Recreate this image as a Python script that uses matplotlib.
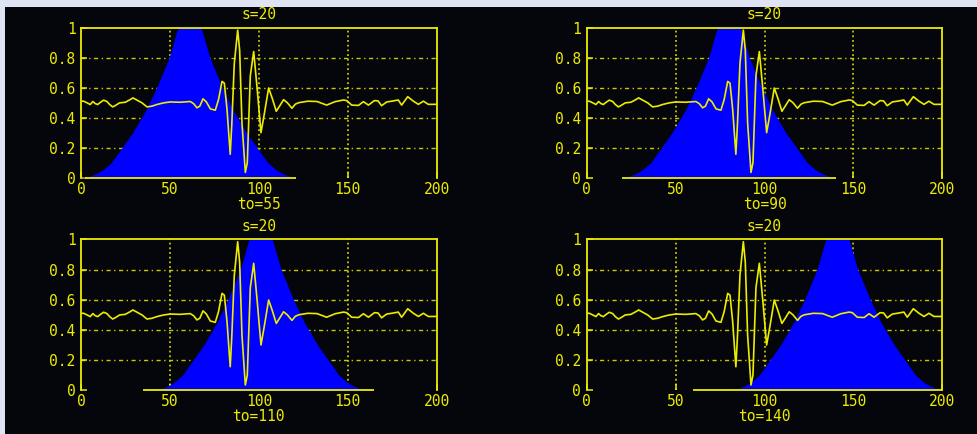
import matplotlib
matplotlib.use("Agg")
import matplotlib.pyplot as plt
from matplotlib.patches import Rectangle

# ---- data ----
sig_x = [0, 1.5, 3.4, 5.2, 6.7, 8.0, 9.4, 10.5, 12.7, 14.6, 16.1, 17.8, 19.3, 21.7, 24.9,
         27.7, 29.2, 31.5, 34.3, 37.1, 39.9, 42.7, 46.5, 50.2, 55.8, 61.4, 63.3, 65.2, 66.8,
         68.6, 70.5, 72.7, 75.5, 77.3, 79.3, 80.6, 82.1, 83.9, 84.8, 86.2, 88.1, 89.2, 90.5,
         92.4, 93.5, 95.2, 97.1, 99.0, 101.2, 103.0, 105.5, 107.5, 109.8, 111.8, 113.9, 116.0,
         118.6, 120.5, 122.4, 127.5, 132.7, 138.1, 142.9, 147.6, 149.4, 152.2, 156.0, 158.8,
         161.6, 165.0, 167.0, 169.0, 171.9, 174.7, 178.4, 180.3, 183.7, 186.9, 189.7, 192.5,
         195.3, 199.0, 200]
sig_y = [0.51, 0.51, 0.499, 0.488, 0.508, 0.494, 0.488, 0.499, 0.517, 0.508, 0.488, 0.472,
         0.481, 0.499, 0.503, 0.521, 0.532, 0.517, 0.499, 0.472, 0.477, 0.488, 0.499, 0.505,
         0.503, 0.508, 0.494, 0.466, 0.477, 0.526, 0.505, 0.459, 0.450, 0.52, 0.642, 0.63,
         0.455, 0.156, 0.36, 0.763, 0.984, 0.85, 0.367, 0.035, 0.1, 0.68, 0.841, 0.6, 0.30,
         0.42, 0.598, 0.53, 0.443, 0.48, 0.52, 0.5, 0.463, 0.49, 0.50, 0.51, 0.508, 0.484,
         0.507, 0.518, 0.514, 0.484, 0.482, 0.507, 0.484, 0.514, 0.512, 0.480, 0.505, 0.51,
         0.518, 0.484, 0.540, 0.51, 0.489, 0.51, 0.489, 0.489, 0.49]

# window profile (offset from window centre, height)
win_offsets = [-62, -58, -55, -52, -49, -46.5, -44, -41, -38, -35, -32, -29.5, -27, -24.5,
               -22.5, -20.5, -18.5, -16.7, -15, -13.2, -11.5, -10.2, -9, -7.8, -6.5, 0,
               6.5, 7.8, 9, 10.2, 11.5, 13.2, 15, 16.7, 18.5, 20.5, 22.5, 24.5, 27, 29.5,
               32, 35, 38, 41, 44, 46.5, 49, 52, 55, 58, 62]
win_heights = [0.0, 0.006, 0.015, 0.03, 0.05, 0.075, 0.1, 0.15, 0.2, 0.25, 0.3, 0.35, 0.4,
               0.45, 0.5, 0.55, 0.6, 0.65, 0.7, 0.75, 0.8, 0.85, 0.9, 0.95, 1.0, 1.15,
               1.0, 0.95, 0.9, 0.85, 0.8, 0.75, 0.7, 0.65, 0.6, 0.55, 0.5, 0.45, 0.4, 0.35,
               0.3, 0.25, 0.2, 0.15, 0.1, 0.075, 0.05, 0.03, 0.015, 0.006, 0.0]

win_centers = [61, 80, 101, 141]
support_start = [2, 20, 35, 60]
support_end = [121, 140, 165, 200]
titles = ["s=20", "s=20", "s=20", "s=20"]
xlabels = ["to=55", "to=90", "to=110", "to=140"]
xticks = [0, 50, 100, 150, 200]
xtick_labels = ["0", "50", "100", "150", "200"]
yticks = [0, 0.2, 0.4, 0.6, 0.8, 1]
ytick_labels = ["0", "0.2", "0.4", "0.6", "0.8", "1"]

# ---- style ----
W, H = 977, 434
BG = "#05060c"
YEL = "#ecec00"
GRID = "#c8c800"
BLUE = "#0000ff"
FONT = "DejaVu Sans Mono"
FS = 10.5

fig = plt.figure(figsize=(W / 100, H / 100), dpi=100, facecolor="#dfe4f4")
fig.patches.append(Rectangle((5 / W, 0), 1, 1 - 7 / H, transform=fig.transFigure,
                             facecolor=BG, edgecolor="none", zorder=-5))

# axes boxes in pixel coordinates (left, top, right, bottom)
boxes = [(81, 27.7, 436.7, 177.7), (586.7, 27.7, 942.3, 177.7),
         (81, 239.3, 436.7, 390.3), (586.7, 239.3, 942.3, 390.3)]

for i, (l, t, r, b) in enumerate(boxes):
    ax = fig.add_axes([l / W, 1 - b / H, (r - l) / W, (b - t) / H])
    ax.set_zorder(2)
    ax.set_facecolor(BG)
    ax.set_xlim(xticks[0], xticks[-1])
    ax.set_ylim(yticks[0], yticks[-1])

    # grid (interior lines only)
    for v in xticks[1:-1]:
        ax.axvline(v, color=GRID, lw=1.3, linestyle=(0, (1, 1.6)), zorder=1)
    for v in yticks[1:-1]:
        ax.axhline(v, color=GRID, lw=1.0, linestyle=(0, (3, 2.5, 1, 2.5)), zorder=1)

    # window
    wx = [win_centers[i] + o for o in win_offsets]
    ax.fill_between(wx, win_heights, 0, color=BLUE, linewidth=0, zorder=2)
    ax.plot([support_start[i], support_end[i]], [0, 0], color=YEL, lw=1.3,
            clip_on=False, zorder=4, solid_capstyle="butt")

    # signal
    ax.plot(sig_x, sig_y, color=YEL, lw=1.2, zorder=3)

    for s in ["left", "top", "right"]:
        ax.spines[s].set_color(YEL)
        ax.spines[s].set_linewidth(1.3)
    ax.spines["bottom"].set_visible(False)

    ax.set_xticks(xticks)
    ax.set_xticklabels(xtick_labels)
    ax.set_yticks(yticks)
    ax.set_yticklabels(ytick_labels)
    ax.tick_params(axis="both", direction="in", colors=YEL, length=4, width=1.1,
                   labelsize=FS)
    ax.tick_params(axis="x", pad=3)
    ax.tick_params(axis="y", pad=4)
    for lab in ax.get_xticklabels() + ax.get_yticklabels():
        lab.set_family(FONT)

    ax.set_title(titles[i], color=YEL, fontsize=FS, family=FONT, pad=6)
    ax.set_xlabel(xlabels[i], color=YEL, fontsize=FS, family=FONT, labelpad=0)

fig.savefig("out.png", dpi=100, facecolor=fig.get_facecolor())
